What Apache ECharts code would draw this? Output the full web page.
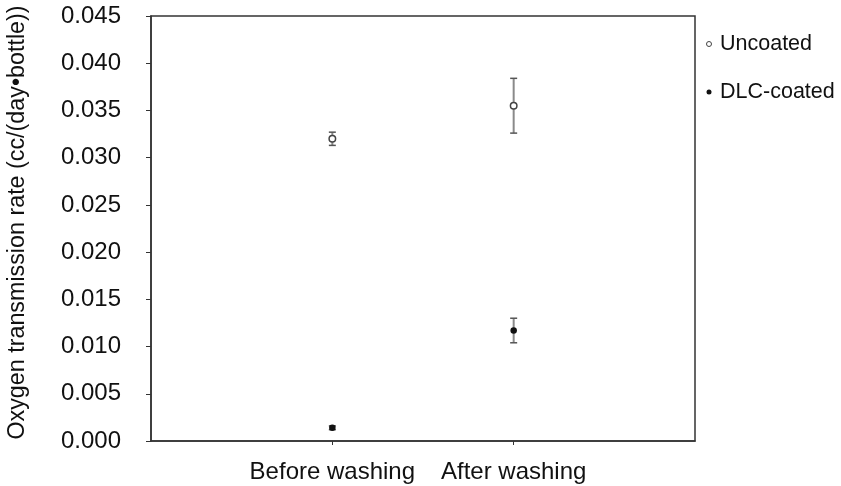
<!DOCTYPE html>
<html>
<head>
<meta charset="utf-8">
<script src="https://cdn.jsdelivr.net/npm/echarts@6/dist/echarts.min.js"></script>
<style>html,body{margin:0;padding:0;background:#fff;}#c{width:841px;height:486px;}</style>
</head>
<body>
<div id="c"></div>
<script>
const categories = ['Before washing', 'After washing'];
const uncoatedMean = [0.0320, 0.0355];
const uncoatedErr = [0.0007, 0.0029];
const coatedMean = [0.0014, 0.0117];
const coatedErr = [0.0002, 0.0013];
const yTicks = [0, 0.005, 0.010, 0.015, 0.020, 0.025, 0.030, 0.035, 0.040, 0.045];

const FONT = '"Liberation Sans", Arial, sans-serif';
const chart = echarts.init(document.getElementById('c'), null, {renderer: 'canvas'});

function pts(means) { return means.map((v, i) => [i + 1, v]); }
function errs(means, e) { return means.map((v, i) => [i + 1, v - e[i], v + e[i]]); }
const catPositions = categories.map((c, i) => i + 1);

function errRender(params, api) {
  const x = api.value(0);
  const lo = api.coord([x, api.value(1)]);
  const hi = api.coord([x, api.value(2)]);
  const hw = 3.5;
  return {
    type: 'group',
    children: [
      {type: 'line', shape: {x1: lo[0], y1: lo[1], x2: hi[0], y2: hi[1]}, style: {stroke: '#8a8a8a', lineWidth: 2}},
      {type: 'line', shape: {x1: lo[0] - hw, y1: lo[1], x2: lo[0] + hw, y2: lo[1]}, style: {stroke: '#555', lineWidth: 1.5}},
      {type: 'line', shape: {x1: hi[0] - hw, y1: hi[1], x2: hi[0] + hw, y2: hi[1]}, style: {stroke: '#555', lineWidth: 1.5}}
    ]
  };
}

chart.setOption({
  animation: false,
  backgroundColor: '#fff',
  textStyle: {fontFamily: FONT},
  grid: {left: 151, right: 146, top: 16, bottom: 45, show: true, borderColor: '#333', borderWidth: 1.5,
         backgroundColor: 'transparent', containLabel: false, outerBoundsMode: 'none'},
  legend: {
    orient: 'vertical', left: 701, top: 28, itemGap: 26,
    itemWidth: 12, itemHeight: 5,
    textStyle: {fontSize: 21.5, color: '#111', fontFamily: FONT},
    data: [
      {name: 'Uncoated', icon: 'circle', itemStyle: {color: '#fff', borderColor: '#444', borderWidth: 1}},
      {name: 'DLC-coated', icon: 'circle', itemStyle: {color: '#111'}}
    ]
  },
  xAxis: {
    type: 'value', min: 0, max: categories.length + 1, interval: 1,
    axisLine: {show: true, lineStyle: {color: '#333', width: 1.5}},
    axisTick: {show: true, length: 4, lineStyle: {color: '#333'}, customValues: catPositions},
    splitLine: {show: false},
    axisLabel: {
      margin: 19, fontSize: 24, color: '#111', fontFamily: FONT,
      formatter: v => (v >= 1 && v <= categories.length) ? categories[v - 1] : ''
    }
  },
  yAxis: {
    type: 'value', min: yTicks[0], max: yTicks[yTicks.length - 1], interval: 0.005,
    name: 'Oxygen transmission rate (cc/(day\u2022bottle))',
    nameLocation: 'middle', nameGap: 122,
    nameTextStyle: {fontSize: 23.3, color: '#111', fontFamily: FONT, padding: [0, 0, 0, 12]},
    axisLine: {show: true, lineStyle: {color: '#333', width: 1.5}},
    axisTick: {show: true, length: 5, inside: false, lineStyle: {color: '#333'}},
    splitLine: {show: false},
    axisLabel: {margin: 30, fontSize: 24, color: '#111', fontFamily: FONT, formatter: v => v.toFixed(3)}
  },
  series: [
    {type: 'custom', name: 'errU', renderItem: errRender, data: errs(uncoatedMean, uncoatedErr), z: 2, silent: true},
    {type: 'custom', name: 'errC', renderItem: errRender, data: errs(coatedMean, coatedErr), z: 2, silent: true},
    {type: 'scatter', name: 'Uncoated', data: pts(uncoatedMean), symbol: 'circle', symbolSize: 6.5,
     itemStyle: {color: '#fff', borderColor: '#444', borderWidth: 1.5, opacity: 1}, z: 5},
    {type: 'scatter', name: 'DLC-coated', data: pts(coatedMean), symbol: 'circle', symbolSize: 6.5,
     itemStyle: {color: '#111', opacity: 1}, z: 5}
  ]
});
</script>
</body>
</html>
